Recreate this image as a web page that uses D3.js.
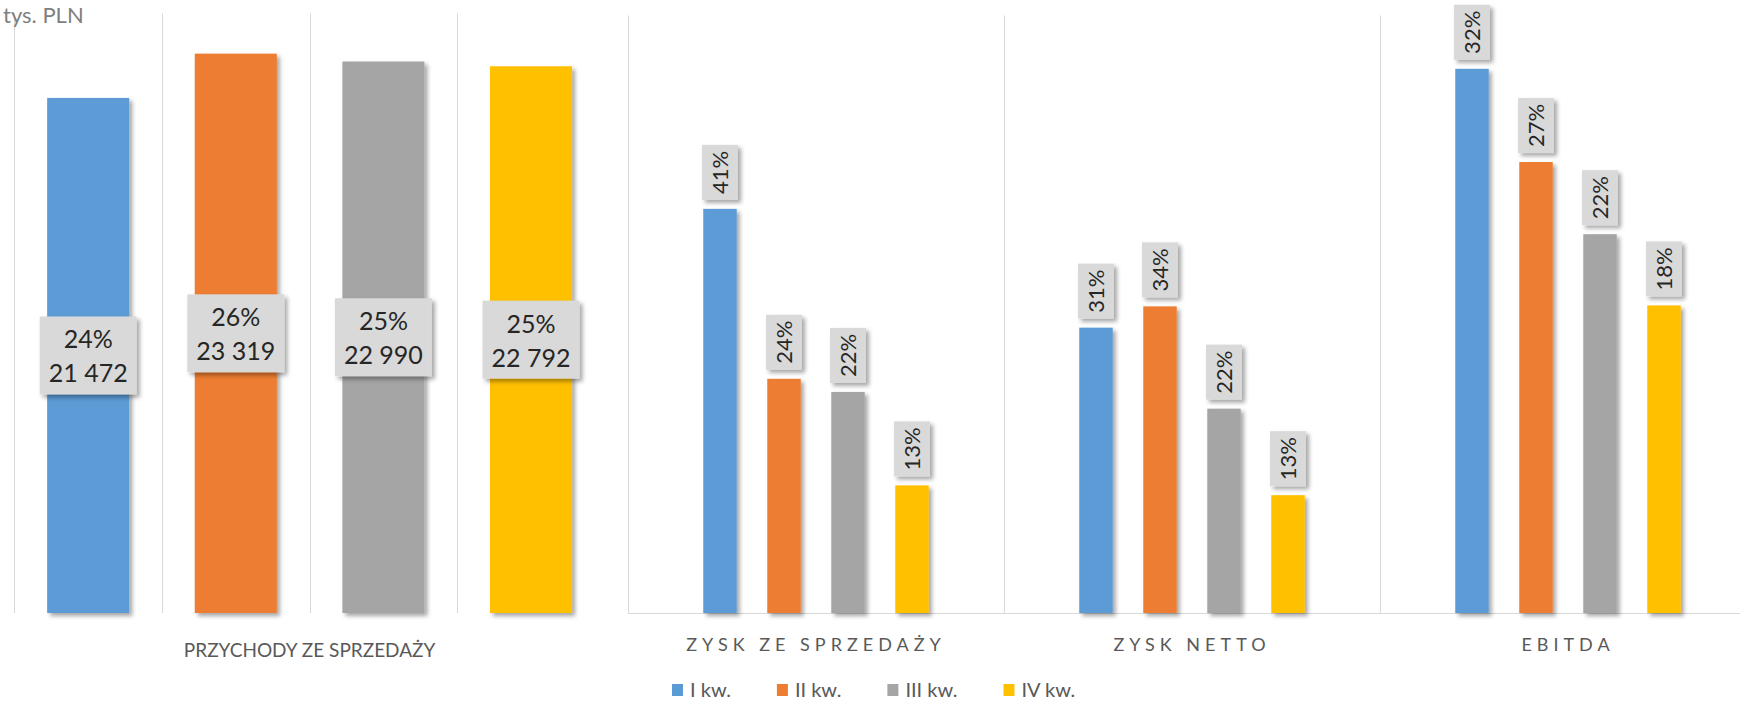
<!DOCTYPE html>
<html>
<head>
<meta charset="utf-8">
<script src="https://cdn.jsdelivr.net/npm/d3@7"></script>
<style>
  body { margin: 0; background: #fff; }
  svg { display: block; font-family: Lato, "Noto Sans", sans-serif; }
</style>
</head>
<body>
<svg id="chart" width="1740" height="701"></svg>
<script>
// data (tys. PLN)
var quarters = ["I kw.", "II kw.", "III kw.", "IV kw."];
var colors = ["#5b9bd5", "#ed7d31", "#a5a5a5", "#ffc000"];

var revenue = [21472, 23319, 22990, 22792];
var revenueShare = ["24%", "26%", "25%", "25%"];

var metrics = ["ZYSK ZE SPRZEDAŻY", "ZYSK NETTO", "EBITDA"];
var q1 = [1691, 1194, 2277];
var q2 = [980, 1283, 1887];
var q3 = [925, 855, 1585];
var q4 = [534, 493, 1287];
var share1 = ["41%", "31%", "32%"];
var share2 = ["24%", "34%", "27%"];
var share3 = ["22%", "22%", "22%"];
var share4 = ["13%", "13%", "18%"];

var svg = d3.select("#chart");
var bottom = 613;

var defs = svg.append("defs");
defs.append("filter").attr("id", "shadow")
    .attr("x", "-30%").attr("y", "-10%").attr("width", "160%").attr("height", "130%")
  .append("feDropShadow")
    .attr("dx", 3).attr("dy", 3).attr("stdDeviation", 2)
    .attr("flood-color", "#000").attr("flood-opacity", 0.35);

var pl = d3.formatLocale({decimal: ",", thousands: " ", grouping: [3], currency: ["", " zł"]});
var fmt = pl.format(",d");

// ---- left panel: przychody
var xL = d3.scaleBand().domain(quarters).range([14.4, 604.8])
    .paddingInner(0.444).paddingOuter(0.222);
var yL = d3.scaleLinear().domain([0, 25000]).range([bottom, 13.3]);

var gL = svg.append("g");
var stepL = xL.step();
// gridline at the left edge of every band
gL.selectAll("line.grid").data(quarters).enter().append("line")
    .attr("class", "grid")
    .attr("x1", function(d) { return Math.round(xL(d) - (stepL - xL.bandwidth()) / 2) + 0.5; })
    .attr("x2", function(d) { return Math.round(xL(d) - (stepL - xL.bandwidth()) / 2) + 0.5; })
    .attr("y1", yL(25000)).attr("y2", bottom)
    .attr("stroke", "#d9d9d9").attr("stroke-width", 1);

gL.selectAll("rect.bar").data(revenue).enter().append("rect")
    .attr("class", "bar")
    .attr("x", function(d, i) { return xL(quarters[i]); })
    .attr("y", function(d) { return yL(d); })
    .attr("width", xL.bandwidth())
    .attr("height", function(d) { return bottom - yL(d); })
    .attr("fill", function(d, i) { return colors[i]; })
    .attr("filter", "url(#shadow)");

var lblL = gL.selectAll("g.lbl").data(revenue).enter().append("g")
    .attr("class", "lbl")
    .attr("transform", function(d, i) {
      return "translate(" + (xL(quarters[i]) + xL.bandwidth() / 2) + "," + ((yL(d) + bottom) / 2) + ")";
    });
lblL.append("rect")
    .attr("x", -48.5).attr("y", -39).attr("width", 97).attr("height", 78)
    .attr("fill", "#d9d9d9").attr("filter", "url(#shadow)");
lblL.append("text")
    .attr("text-anchor", "middle").attr("y", -16).attr("dy", "0.36em")
    .attr("font-size", 25).attr("fill", "#262626")
    .text(function(d, i) { return revenueShare[i]; });
lblL.append("text")
    .attr("text-anchor", "middle").attr("y", 18).attr("dy", "0.36em")
    .attr("font-size", 25).attr("fill", "#262626")
    .text(function(d) { return fmt(d); });

svg.append("text")
    .attr("x", (xL.range()[0] + xL.range()[1]) / 2).attr("y", 650).attr("dy", "0.35em")
    .attr("text-anchor", "middle").attr("font-size", 19).attr("fill", "#595959")
    .text("PRZYCHODY ZE SPRZEDAŻY");

svg.append("text")
    .attr("x", 3).attr("y", 23)
    .attr("font-size", 22).attr("fill", "#7f7f7f")
    .text("tys. PLN");

// ---- right panel: zyski
var series = [q1, q2, q3, q4];
var shares = [share1, share2, share3, share4];

var x0 = d3.scaleBand().domain(metrics).range([628, 1756]);
var x1 = d3.scaleBand().domain(quarters).range([0, x0.bandwidth()])
    .paddingInner(0.477).paddingOuter(1.176);
var yR = d3.scaleLinear().domain([0, 2500]).range([bottom, 15.5]);

var gR = svg.append("g");
gR.selectAll("line.grid").data(metrics).enter().append("line")
    .attr("class", "grid")
    .attr("x1", function(d) { return Math.round(x0(d)) + 0.5; })
    .attr("x2", function(d) { return Math.round(x0(d)) + 0.5; })
    .attr("y1", yR(2500)).attr("y2", bottom)
    .attr("stroke", "#d9d9d9");
gR.append("line")
    .attr("x1", 628).attr("x2", 1740).attr("y1", bottom + 0.5).attr("y2", bottom + 0.5)
    .attr("stroke", "#d9d9d9");

var groups = gR.selectAll("g.metric").data(metrics).enter().append("g")
    .attr("class", "metric")
    .attr("transform", function(d) { return "translate(" + x0(d) + ",0)"; });

groups.each(function(m, mi) {
  var g = d3.select(this);
  var rows = quarters.map(function(q, qi) {
    return {q: q, qi: qi, v: series[qi][mi], s: shares[qi][mi]};
  });
  g.selectAll("rect.bar").data(rows).enter().append("rect")
      .attr("class", "bar")
      .attr("x", function(d) { return x1(d.q); })
      .attr("y", function(d) { return yR(d.v); })
      .attr("width", x1.bandwidth())
      .attr("height", function(d) { return bottom - yR(d.v); })
      .attr("fill", function(d) { return colors[d.qi]; })
      .attr("filter", "url(#shadow)");
  var lb = g.selectAll("g.lbl").data(rows).enter().append("g")
      .attr("class", "lbl")
      .attr("transform", function(d) {
        return "translate(" + (x1(d.q) + x1.bandwidth() / 2) + "," + (yR(d.v) - 9 - 27.5) + ")";
      });
  lb.append("rect")
      .attr("x", -18).attr("y", -27.5).attr("width", 36).attr("height", 55)
      .attr("fill", "#d9d9d9").attr("filter", "url(#shadow)");
  lb.append("text")
      .attr("transform", "rotate(-90)")
      .attr("text-anchor", "middle").attr("dy", "0.36em")
      .attr("font-size", 22).attr("fill", "#262626")
      .text(function(d) { return d.s; });
});

gR.selectAll("text.cat").data(metrics).enter().append("text")
    .attr("class", "cat")
    .attr("x", function(d) { return x0(d) + x0.bandwidth() / 2; })
    .attr("y", 645).attr("dy", "0.35em")
    .attr("text-anchor", "middle").attr("font-size", 18)
    .attr("letter-spacing", 5).attr("fill", "#595959")
    .text(function(d) { return d; });

// ---- legend
var legend = svg.append("g").attr("transform", "translate(672,690)");
var lx = 0;
quarters.forEach(function(q, i) {
  var it = legend.append("g").attr("transform", "translate(" + lx + ",0)");
  it.append("rect").attr("x", 0).attr("y", -6).attr("width", 11).attr("height", 12)
      .attr("fill", colors[i]);
  var t = it.append("text").attr("x", 18).attr("dy", "0.36em")
      .attr("font-size", 20).attr("fill", "#595959").text(q);
  lx += 18 + t.node().getComputedTextLength() + 46;
});
</script>
</body>
</html>
